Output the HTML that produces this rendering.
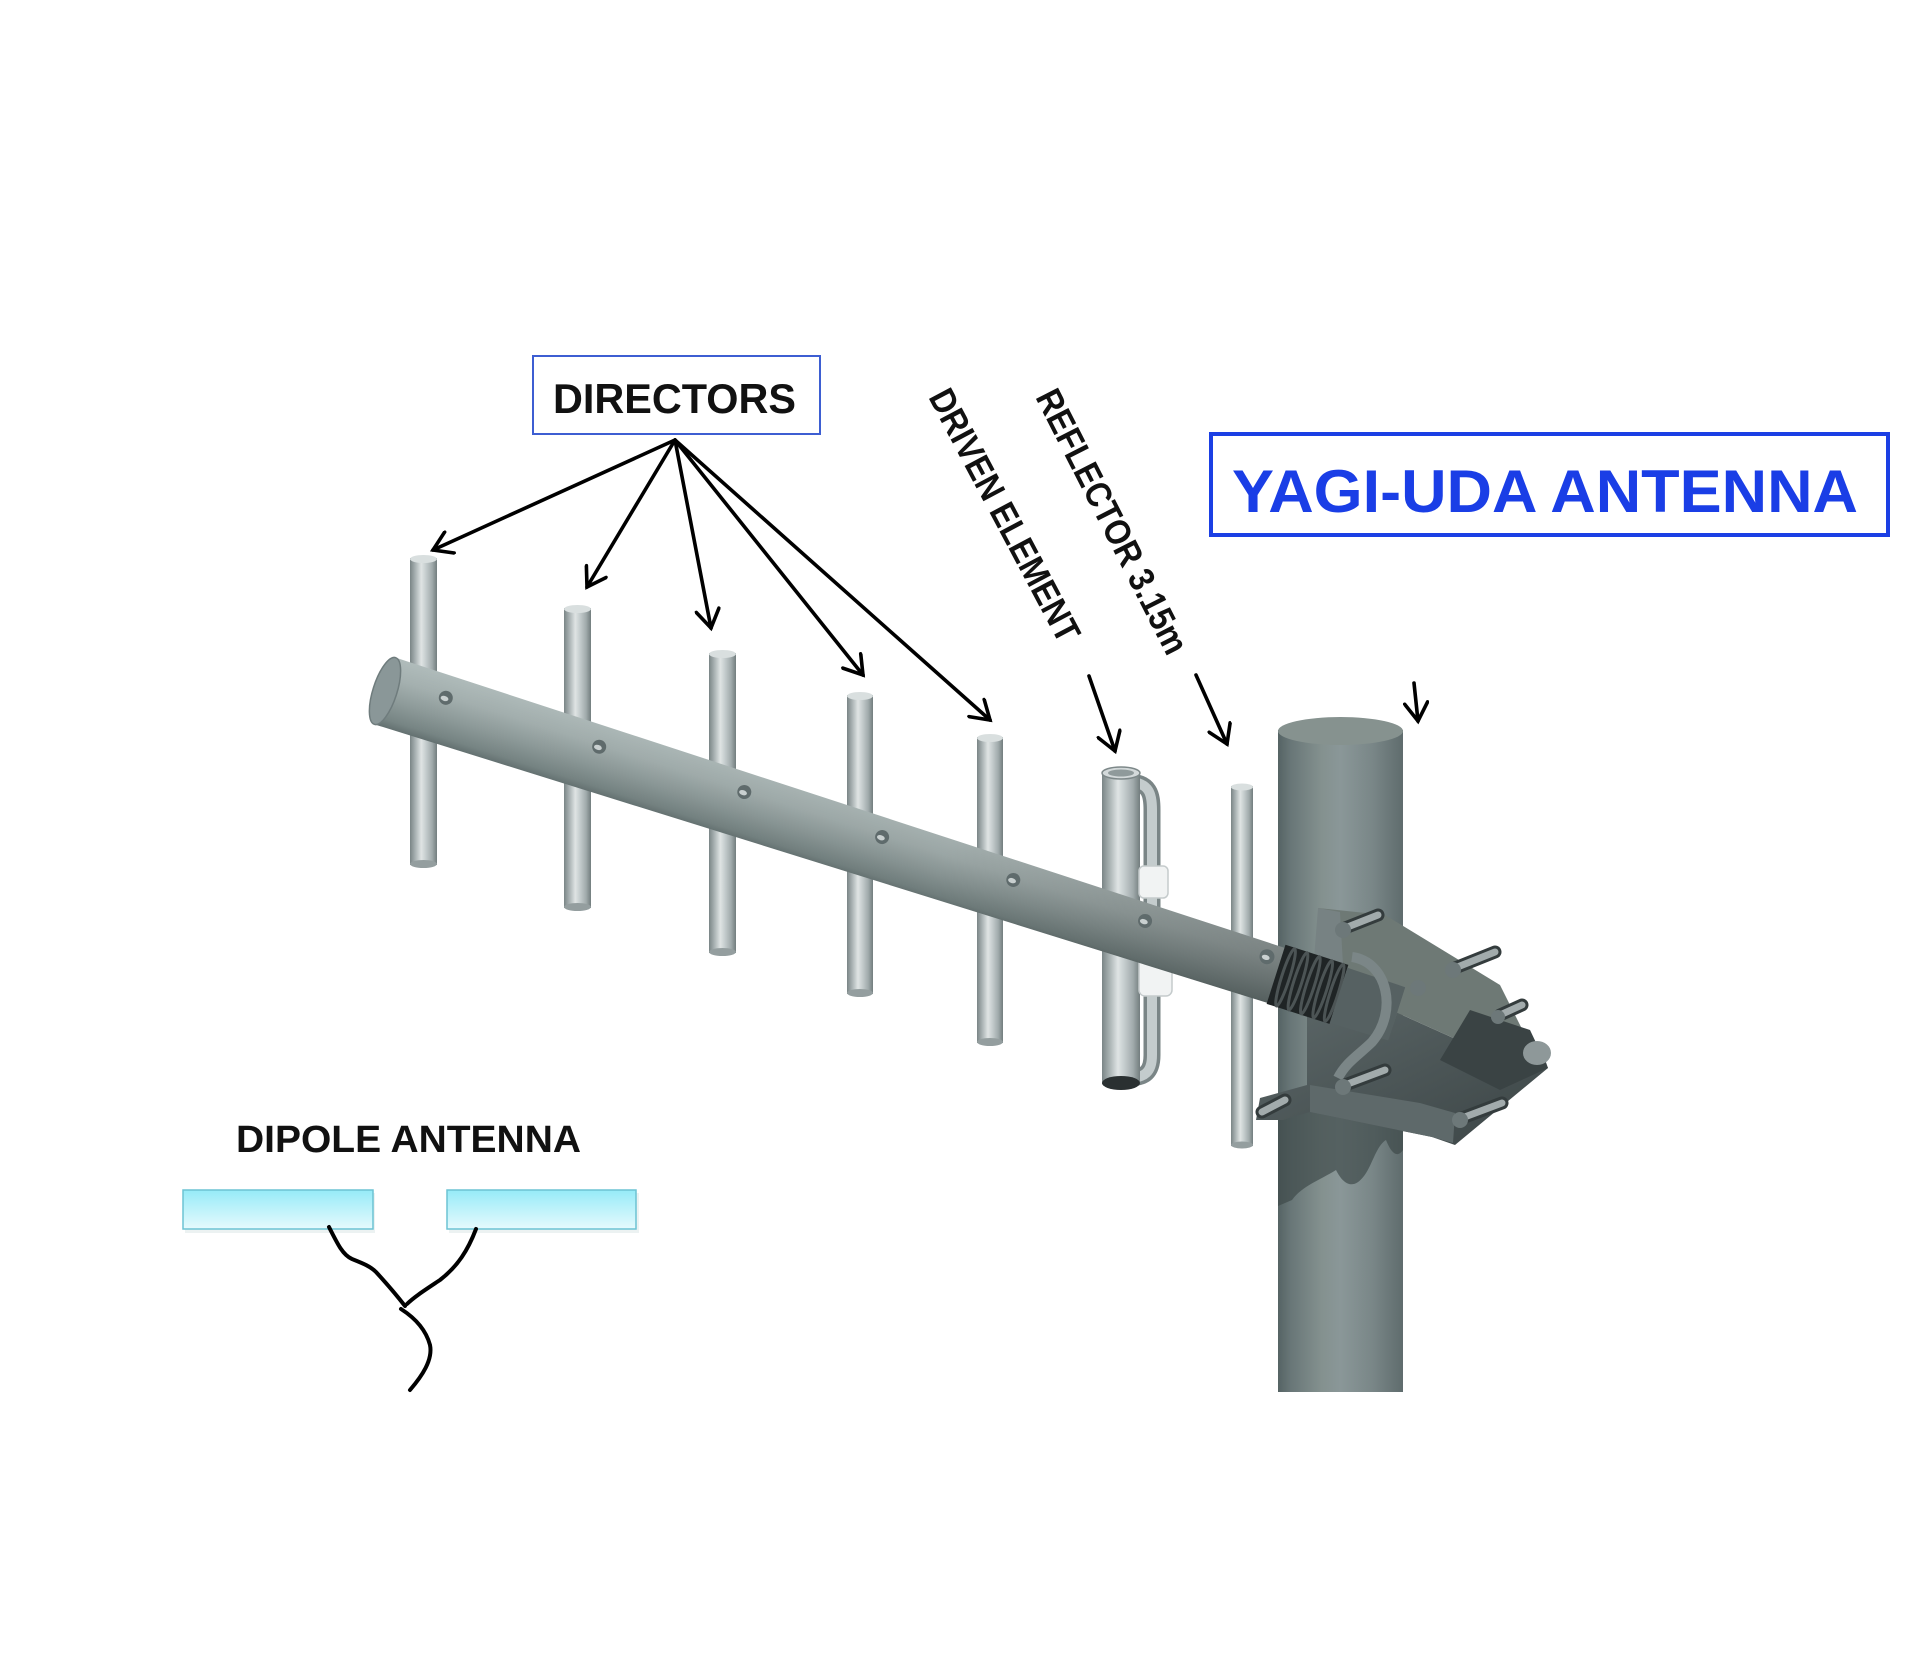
<!DOCTYPE html>
<html><head><meta charset="utf-8"><style>
html,body{margin:0;padding:0;background:#fff;}
svg{display:block;}
</style></head><body>
<svg width="1920" height="1656" viewBox="0 0 1920 1656" xmlns="http://www.w3.org/2000/svg">
<defs>
<linearGradient id="rod" x1="0" y1="0" x2="1" y2="0">
<stop offset="0" stop-color="#7a8586"/><stop offset="0.2" stop-color="#a9b2b3"/><stop offset="0.42" stop-color="#dfe4e4"/><stop offset="0.6" stop-color="#c3cbcc"/><stop offset="0.82" stop-color="#a0aaab"/><stop offset="1" stop-color="#727d7e"/>
</linearGradient>
<linearGradient id="boom" x1="0" y1="0" x2="0" y2="1">
<stop offset="0" stop-color="#b0bcbb"/><stop offset="0.3" stop-color="#a4b0af"/><stop offset="0.6" stop-color="#8e9b9a"/><stop offset="0.88" stop-color="#778584"/><stop offset="1" stop-color="#637070"/>
</linearGradient>
<linearGradient id="boomShade" x1="0" y1="0" x2="1" y2="0">
<stop offset="0" stop-color="#000" stop-opacity="0"/><stop offset="0.55" stop-color="#000" stop-opacity="0.06"/><stop offset="1" stop-color="#000" stop-opacity="0.35"/>
</linearGradient>
<linearGradient id="pole" x1="0" y1="0" x2="1" y2="0">
<stop offset="0" stop-color="#556364"/><stop offset="0.1" stop-color="#687677"/><stop offset="0.35" stop-color="#84918f"/><stop offset="0.5" stop-color="#8a9798"/><stop offset="0.75" stop-color="#7a8788"/><stop offset="1" stop-color="#5f6c6d"/>
</linearGradient>
<linearGradient id="dip" x1="0" y1="0" x2="0" y2="1">
<stop offset="0" stop-color="#96ebf8"/><stop offset="1" stop-color="#e6fafd"/>
</linearGradient>
<linearGradient id="clamp" x1="0" y1="0" x2="1" y2="1">
<stop offset="0" stop-color="#5c6768"/><stop offset="1" stop-color="#3c4546"/>
</linearGradient>
<marker id="ah" viewBox="0 0 24 26" refX="20" refY="13" markerWidth="24" markerHeight="26" markerUnits="userSpaceOnUse" orient="auto">
<path d="M2,1.5 L20,13 L2,24.5" fill="none" stroke="#000" stroke-width="3.6" stroke-linecap="round" stroke-linejoin="miter"/>
</marker>
</defs>

<!-- POLE -->
<rect x="1278" y="730" width="125" height="662" fill="url(#pole)"/>
<ellipse cx="1340.5" cy="731" rx="62.5" ry="14" fill="#86928f"/>
<path d="M1278 1105 L1403 1105 L1403 1150 C1396 1160 1390 1150 1386 1140 C1376 1146 1372 1166 1364 1176 C1352 1192 1342 1182 1336 1170 C1320 1180 1302 1186 1292 1200 L1278 1206 Z" fill="#3f4a4a" opacity="0.7"/>

<!-- CLAMP BACK -->
<polygon points="1307,1010 1380,1005 1480,1050 1540,1045 1548,1068 1455,1145 1432,1137 1310,1112 1283,1120 1256,1120 1260,1098 1307,1085" fill="url(#clamp)"/>
<polygon points="1318,908 1385,915 1500,985 1525,1035 1480,1050 1380,1005 1330,962" fill="#6e7975"/>
<polygon points="1318,908 1340,912 1345,1000 1310,1010" fill="#778283"/>
<polygon points="1310,1085 1420,1103 1455,1113 1453,1143 1432,1137 1310,1112" fill="#5e696a"/>
<polygon points="1470,1010 1530,1030 1548,1068 1500,1090 1440,1060" fill="#3a4344"/>

<!-- DIRECTOR RODS -->
<g>
<rect x="410" y="558" width="27" height="307" fill="url(#rod)"/>
<ellipse cx="423.5" cy="559" rx="13.5" ry="4" fill="#d9dfdf"/>
<ellipse cx="423.5" cy="864" rx="13.5" ry="4" fill="#949e9f"/>
<rect x="564" y="608" width="27" height="300" fill="url(#rod)"/>
<ellipse cx="577.5" cy="609" rx="13.5" ry="4" fill="#d9dfdf"/>
<ellipse cx="577.5" cy="907" rx="13.5" ry="4" fill="#949e9f"/>
<rect x="709" y="653" width="27" height="300" fill="url(#rod)"/>
<ellipse cx="722.5" cy="654" rx="13.5" ry="4" fill="#d9dfdf"/>
<ellipse cx="722.5" cy="952" rx="13.5" ry="4" fill="#949e9f"/>
<rect x="847" y="695" width="26" height="299" fill="url(#rod)"/>
<ellipse cx="860" cy="696" rx="13" ry="4" fill="#d9dfdf"/>
<ellipse cx="860" cy="993" rx="13" ry="4" fill="#949e9f"/>
<rect x="977" y="737" width="26" height="306" fill="url(#rod)"/>
<ellipse cx="990" cy="738" rx="13" ry="4" fill="#d9dfdf"/>
<ellipse cx="990" cy="1042" rx="13" ry="4" fill="#949e9f"/>
</g>

<!-- DRIVEN ELEMENT -->
<path d="M1128 782 C1150 782 1152 795 1152 810 L1152 1055 C1152 1072 1145 1078 1128 1078" fill="none" stroke="#7a8586" stroke-width="17"/>
<path d="M1128 782 C1150 782 1152 795 1152 810 L1152 1055 C1152 1072 1145 1078 1128 1078" fill="none" stroke="#c4cccd" stroke-width="10"/>
<rect x="1102" y="773" width="38" height="311" fill="url(#rod)"/>
<ellipse cx="1121" cy="773" rx="19" ry="6" fill="#d3d9da" stroke="#7d8889" stroke-width="1.5"/>
<ellipse cx="1121" cy="773" rx="13" ry="3.5" fill="#8f9a9b"/>
<ellipse cx="1121" cy="1083" rx="19" ry="7" fill="#2a3031"/>
<rect x="1139" y="866" width="29" height="32" rx="5" fill="#f1f3f3" stroke="#c5cbcc" stroke-width="1.5"/>
<rect x="1139" y="948" width="33" height="48" rx="6" fill="#f1f3f3" stroke="#c5cbcc" stroke-width="1.5"/>

<!-- REFLECTOR -->
<rect x="1231" y="786" width="22" height="360" fill="url(#rod)"/>
<ellipse cx="1242" cy="787" rx="11" ry="3.5" fill="#d9dfdf"/>
<ellipse cx="1242" cy="1145" rx="11" ry="3.5" fill="#949e9f"/>

<!-- BOOM -->
<g transform="translate(385,691) rotate(17.7)">
<polygon points="0,-35 1062,-28 1062,28 0,35" fill="url(#boom)"/>
<polygon points="0,-35 1062,-28 1062,28 0,35" fill="url(#boomShade)"/>
<ellipse cx="0" cy="0" rx="12" ry="35" fill="#8a9798" stroke="#6f7c7d" stroke-width="1.5"/>
<g fill="#5f6b6c">
<circle cx="60" cy="-12" r="7"/><circle cx="221" cy="-12" r="7"/><circle cx="373" cy="-13" r="7"/><circle cx="518" cy="-12" r="7"/><circle cx="656" cy="-11" r="7"/><circle cx="794" cy="-12" r="7"/><circle cx="921" cy="-15" r="7.5"/>
</g>
<g fill="#c9d0d0">
<ellipse cx="59" cy="-11" rx="4" ry="2.5"/><ellipse cx="220" cy="-11" rx="4" ry="2.5"/><ellipse cx="372" cy="-12" rx="4" ry="2.5"/><ellipse cx="517" cy="-11" rx="4" ry="2.5"/><ellipse cx="655" cy="-10" rx="4" ry="2.5"/><ellipse cx="793" cy="-11" rx="4" ry="2.5"/><ellipse cx="920" cy="-14" rx="4" ry="2.5"/>
</g>
<rect x="935" y="-32" width="66" height="62" fill="#1f2425"/>
<g fill="none" stroke="#4c5455" stroke-width="3">
<ellipse cx="945" cy="-1" rx="4" ry="30"/><ellipse cx="958" cy="-1" rx="4" ry="30"/><ellipse cx="971" cy="-1" rx="4" ry="30"/><ellipse cx="984" cy="-1" rx="4" ry="30"/><ellipse cx="996" cy="-1" rx="4" ry="30"/>
</g>
<polygon points="1001,-29 1062,-28 1062,28 1001,29" fill="#566162"/>
</g>

<!-- CLAMP FRONT -->
<path d="M1352 957 C1388 962 1398 1012 1372 1042 C1360 1054 1346 1062 1338 1078" fill="none" stroke="#7b8687" stroke-width="10"/>
<g stroke-linecap="round">
<g stroke="#343c3d" stroke-width="13">
<line x1="1345" y1="928" x2="1378" y2="915"/><line x1="1455" y1="968" x2="1495" y2="952"/><line x1="1500" y1="1015" x2="1522" y2="1005"/><line x1="1345" y1="1085" x2="1385" y2="1070"/><line x1="1462" y1="1118" x2="1502" y2="1103"/><line x1="1262" y1="1112" x2="1285" y2="1100"/>
</g>
<g stroke="#a2abac" stroke-width="7">
<line x1="1345" y1="928" x2="1378" y2="915"/><line x1="1455" y1="968" x2="1495" y2="952"/><line x1="1500" y1="1015" x2="1522" y2="1005"/><line x1="1345" y1="1085" x2="1385" y2="1070"/><line x1="1462" y1="1118" x2="1502" y2="1103"/><line x1="1262" y1="1112" x2="1285" y2="1100"/>
</g>
</g>
<g fill="#6d7879">
<circle cx="1343" cy="930" r="8"/><circle cx="1453" cy="970" r="8"/><circle cx="1418" cy="988" r="8"/><circle cx="1498" cy="1017" r="7"/><circle cx="1343" cy="1087" r="8"/><circle cx="1460" cy="1120" r="8"/>
</g>
<ellipse cx="1537" cy="1053" rx="14" ry="12" fill="#8e9899"/>

<!-- DIRECTORS LABEL -->
<rect x="533" y="356" width="287" height="78" fill="#fff" stroke="#3d5ed2" stroke-width="2"/>
<text x="553" y="413" font-family="Liberation Sans, sans-serif" font-weight="bold" font-size="42" fill="#111" textLength="243" lengthAdjust="spacingAndGlyphs">DIRECTORS</text>

<!-- ARROWS -->
<g stroke="#000" stroke-width="3.6" fill="none" marker-end="url(#ah)" stroke-linecap="round">
<line x1="675" y1="440" x2="433" y2="550"/>
<line x1="675" y1="440" x2="587" y2="587"/>
<line x1="675" y1="440" x2="711" y2="628"/>
<line x1="675" y1="440" x2="863" y2="675"/>
<line x1="675" y1="440" x2="990" y2="720"/>
<line x1="1089" y1="676" x2="1115" y2="751"/>
<line x1="1196" y1="675" x2="1227" y2="744"/>
<line x1="1414" y1="683" x2="1418" y2="721"/>
</g>

<!-- ROTATED LABELS -->
<text x="928" y="397" transform="rotate(62 928 397)" font-family="Liberation Sans, sans-serif" font-weight="bold" font-size="36" fill="#111" textLength="281" lengthAdjust="spacingAndGlyphs">DRIVEN ELEMENT</text>
<text x="1035" y="397" transform="rotate(63 1035 397)" font-family="Liberation Sans, sans-serif" font-weight="bold" font-size="36" fill="#111" textLength="292" lengthAdjust="spacingAndGlyphs">REFLECTOR 3.15m</text>

<!-- YAGI LABEL -->
<rect x="1211" y="434" width="677" height="101" fill="#fff" stroke="#1b3fe4" stroke-width="4"/>
<text x="1232" y="512" font-family="Liberation Sans, sans-serif" font-weight="bold" font-size="60" fill="#1a3ee6" textLength="626" lengthAdjust="spacingAndGlyphs">YAGI-UDA ANTENNA</text>

<!-- DIPOLE -->
<text x="236" y="1152" font-family="Liberation Sans, sans-serif" font-weight="bold" font-size="38" fill="#111" textLength="345" lengthAdjust="spacingAndGlyphs">DIPOLE ANTENNA</text>
<rect x="185" y="1193" width="190" height="40" fill="#dfe9ea" opacity="0.6"/>
<rect x="449" y="1193" width="190" height="40" fill="#dfe9ea" opacity="0.6"/>
<rect x="183" y="1190" width="190" height="39" fill="url(#dip)" stroke="#6cc3d3" stroke-width="1.5"/>
<rect x="447" y="1190" width="189" height="39" fill="url(#dip)" stroke="#6cc3d3" stroke-width="1.5"/>
<g fill="none" stroke="#000" stroke-width="4" stroke-linecap="round">
<path d="M329 1227 C338 1245 343 1255 352 1259 C362 1263 370 1266 376 1272 C388 1285 398 1297 405 1306"/>
<path d="M476 1229 C468 1250 458 1266 440 1280 C425 1290 414 1297 407 1304"/>
<path d="M401 1309 C415 1318 426 1330 430 1345 C433 1360 422 1376 410 1390"/>
</g>
</svg>
</body></html>
